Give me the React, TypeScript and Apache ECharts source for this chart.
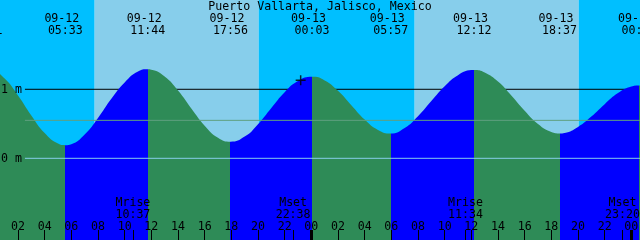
import React, { useEffect, useRef } from "react";
import * as echarts from "echarts";

// ---------- data (hours counted from 09-12 00:00 local time) ----------
const TITLE = "Puerto Vallarta, Jalisco, Mexico";

const sampleTimes = [
  0, 1, 2, 3, 4, 5, 6, 7, 8, 9, 10, 11, 12, 13, 14, 15, 16, 17, 19, 20, 21, 22, 23,
  25, 26, 27, 28, 29, 31, 32, 33, 34, 35, 36, 37, 38, 39, 40, 41, 42, 43, 44, 45, 46, 47, 48, 49,
];
const sampleLevels = [
  1.288, 1.155, 0.911, 0.621, 0.366, 0.213, 0.204, 0.345, 0.585, 0.862, 1.1, 1.258, 1.285, 1.185,
  0.981, 0.721, 0.473, 0.298, 0.315, 0.495, 0.73, 0.958, 1.12,
  1.129, 0.978, 0.77, 0.562, 0.411, 0.44, 0.61, 0.83, 1.045, 1.205, 1.278, 1.245, 1.113, 0.911,
  0.689, 0.497, 0.381, 0.368, 0.455, 0.605, 0.785, 0.945, 1.04, 1.046,
];

const extremeTimes = [-0.48, 5.55, 11.733, 17.933, 24.05, 29.95, 36.2, 42.617, 48.57];
const extremeLevels = [1.3, 0.19, 1.29, 0.24, 1.18, 0.36, 1.28, 0.36, 1.055];
const extremeDates = ["09-11", "09-12", "09-12", "09-12", "09-13", "09-13", "09-13", "09-13", "09-14"];
const extremeClocks = ["23:31", "05:33", "11:44", "17:56", "00:03", "05:57", "12:12", "18:37", "00:34"];

const sunriseTimes = [7.75, 31.75, 55.75];
const sunsetTimes = [-3.95, 20.05, 44.05];

const moonTimes = [10.617, 22.633, 35.567, 47.333];
const moonEvents = ["Mrise", "Mset", "Mrise", "Mset"];
const moonClocks = ["10:37", "22:38", "11:34", "23:20"];

const hourLabelValues = [2, 4, 6, 8, 10, 12, 14, 16, 18, 20, 22, 24, 26, 28, 30, 32, 34, 36, 38, 40, 42, 44, 46, 48];
const midnightValues = [24, 48];
const datumValues = [0, 1];
const meanLevel = 0.55;
const nowTime = 23.2;
const nowLevel = 1.13;

// ---------- layout / style ----------
const T_MIN = 0.65;
const T_MAX = 48.65;
const Y_MIN = -1.184;
const Y_MAX = 2.294;
const LINE_START_T = 2.52;
const FONT_FAMILY = '"DejaVu Sans Mono", monospace';
const FONT_SIZE = 11.6;
const FONT = `${FONT_SIZE}px ${FONT_FAMILY}`;
const DAY = "#87CEEB";
const NIGHT = "#00BFFF";
const FLOOD = "#0000FF";
const EBB = "#2E8B57";
const MEAN_COLOR = "#5FA080";
const ZERO_COLOR = "#87CEEB";

const pad2 = (n: number) => (n < 10 ? "0" + n : "" + n);

export default function App() {
  const ref = useRef<HTMLDivElement>(null);

  useEffect(() => {
    if (!ref.current) return;
    const chart = echarts.init(ref.current, undefined, { renderer: "svg" });

    const curve = [
      ...sampleTimes.map((t, i) => [t, sampleLevels[i]]),
      ...extremeTimes.map((t, i) => [t, extremeLevels[i]]),
    ].sort((a, b) => a[0] - b[0]);

    const pieces: any[] = [];
    pieces.push({ lt: extremeTimes[0], color: extremeLevels[0] > extremeLevels[1] ? FLOOD : EBB });
    for (let i = 0; i < extremeTimes.length - 1; i++) {
      pieces.push({
        gte: extremeTimes[i],
        lt: extremeTimes[i + 1],
        color: extremeLevels[i + 1] > extremeLevels[i] ? FLOOD : EBB,
      });
    }
    const nLast = extremeTimes.length - 1;
    pieces.push({
      gte: extremeTimes[nLast],
      color: extremeLevels[nLast] > extremeLevels[nLast - 1] ? EBB : FLOOD,
    });

    const bands: number[][] = [];
    for (let i = 0; i < sunsetTimes.length; i++) {
      bands.push([sunsetTimes[i], sunriseTimes[i], 0]);
      if (i + 1 < sunsetTimes.length) bands.push([sunriseTimes[i], sunsetTimes[i + 1], 1]);
    }

    const thinTicks = [...hourLabelValues.filter((v) => midnightValues.indexOf(v) < 0), ...moonTimes];

    const option: any = {
      animation: false,
      grid: { left: 0, right: 0, top: 0, bottom: 0, containLabel: false, outerBoundsMode: "none" },
      xAxis: [
        {
          type: "value",
          min: T_MIN,
          max: T_MAX,
          position: "bottom",
          axisLine: { show: false, onZero: false },
          splitLine: { show: false },
          axisTick: {
            show: true,
            inside: true,
            length: 10,
            customValues: thinTicks,
            lineStyle: { color: "#000", width: 1 },
          },
          axisLabel: {
            show: true,
            inside: true,
            margin: 8,
            customValues: hourLabelValues,
            formatter: (v: number) => pad2(Math.round(v) % 24),
            color: "#000",
            fontFamily: FONT_FAMILY,
            fontSize: FONT_SIZE,
          },
          z: 20,
        },
        {
          type: "value",
          min: T_MIN,
          max: T_MAX,
          position: "bottom",
          axisLine: { show: false, onZero: false },
          splitLine: { show: false },
          axisTick: {
            show: true,
            inside: true,
            length: 10,
            customValues: midnightValues,
            lineStyle: { color: "#000", width: 3 },
          },
          axisLabel: { show: false },
          z: 20,
        },
      ],
      yAxis: {
        type: "value",
        min: Y_MIN,
        max: Y_MAX,
        axisLine: { show: false, onZero: false },
        axisTick: { show: false },
        splitLine: { show: false },
        axisLabel: {
          show: true,
          inside: true,
          margin: 1,
          customValues: datumValues,
          formatter: (v: number) => `${v} m`,
          color: "#000",
          fontFamily: FONT_FAMILY,
          fontSize: FONT_SIZE,
        },
        z: 20,
      },
      visualMap: [
        { type: "piecewise", show: false, dimension: 0, seriesIndex: 2, pieces },
      ],
      series: [
        {
          type: "custom",
          z: 0,
          silent: true,
          encode: { x: [0, 1] },
          data: bands,
          renderItem: (params: any, api: any) => {
            const s = api.coord([api.value(0), Y_MAX]);
            const e = api.coord([api.value(1), Y_MIN]);
            const cs = params.coordSys;
            const shape = echarts.graphic.clipRectByRect(
              { x: s[0], y: s[1], width: e[0] - s[0], height: e[1] - s[1] },
              { x: cs.x, y: cs.y, width: cs.width, height: cs.height }
            );
            if (!shape) return null;
            return {
              type: "rect",
              shape,
              style: { fill: api.value(2) === 1 ? DAY : NIGHT },
            };
          },
        },
        {
          type: "line",
          z: 1,
          silent: true,
          showSymbol: false,
          data: [
            [LINE_START_T, datumValues[1]],
            [T_MAX, datumValues[1]],
          ],
          lineStyle: { color: "#000", width: 1 },
        },
        {
          type: "line",
          z: 2,
          silent: true,
          smooth: true,
          showSymbol: false,
          data: curve,
          lineStyle: { width: 0 },
          areaStyle: { opacity: 1, origin: "start" },
        },
        {
          type: "line",
          z: 3,
          silent: true,
          showSymbol: false,
          data: [
            [LINE_START_T, meanLevel],
            [T_MAX, meanLevel],
          ],
          lineStyle: { color: MEAN_COLOR, width: 1 },
        },
        {
          type: "line",
          z: 3,
          silent: true,
          showSymbol: false,
          data: [
            [LINE_START_T, datumValues[0]],
            [T_MAX, datumValues[0]],
          ],
          lineStyle: { color: ZERO_COLOR, width: 1 },
        },
        {
          type: "scatter",
          z: 4,
          silent: true,
          data: [[nowTime, nowLevel]],
          symbol: "path://M0,5L10,5M5,0L5,10",
          symbolSize: 10,
          itemStyle: { color: "transparent", borderColor: "#000", borderWidth: 1.5 },
        },
      ],
    };

    chart.setOption(option);

    const px = (t: number) => chart.convertToPixel({ xAxisIndex: 0 }, t) as number;
    const txt = (text: string, x: number, y: number) => ({
      type: "text",
      x,
      y,
      z: 100,
      silent: true,
      style: {
        text,
        font: FONT,
        fill: "#000",
        textAlign: "center",
        textVerticalAlign: "middle",
      },
    });

    const graphics: any[] = [txt(TITLE, 320, 5.5)];
    extremeTimes.forEach((t, i) => {
      const x = px(t);
      graphics.push(txt(extremeDates[i], x - 3.5, 17.5));
      graphics.push(txt(extremeClocks[i], x, 29.5));
    });
    moonTimes.forEach((t, i) => {
      const x = px(t);
      graphics.push(txt(moonEvents[i], x, 202));
      graphics.push(txt(moonClocks[i], x, 213.7));
    });
    chart.setOption({ graphic: graphics });

    return () => chart.dispose();
  }, []);

  return (
    <div
      ref={ref}
      style={{ position: "fixed", left: 0, top: 0, width: 640, height: 240 }}
    />
  );
}
